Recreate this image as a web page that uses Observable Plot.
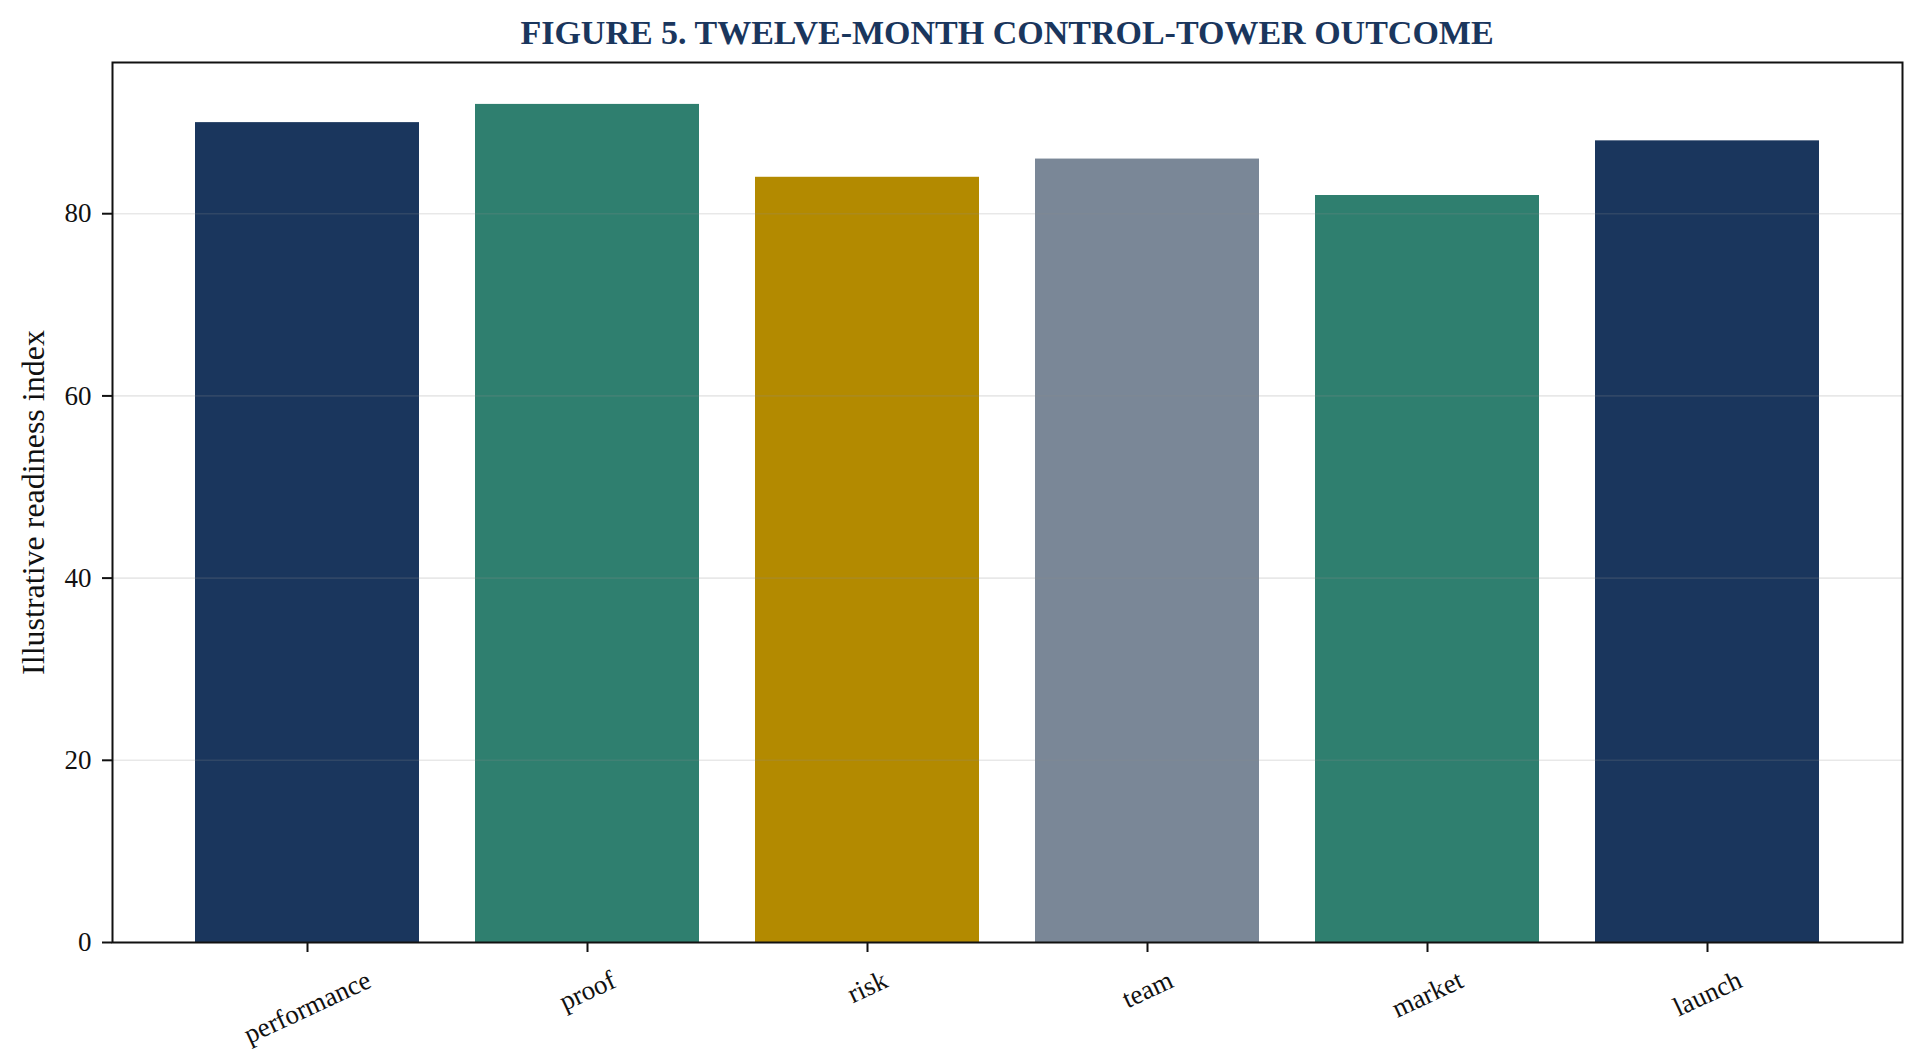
<!DOCTYPE html>
<html>
<head>
<meta charset="utf-8">
<script src="https://cdn.jsdelivr.net/npm/d3@7"></script>
<script src="https://cdn.jsdelivr.net/npm/@observablehq/plot@0.6"></script>
<style>
  html, body { margin: 0; padding: 0; background: #fff; }
  #wrap { position: relative; width: 1924px; height: 1063px; }
  #title {
    position: absolute; top: 0; left: 112px; width: 1790px; height: 66px;
    line-height: 66px; text-align: center;
    font-family: "Liberation Serif", "Times New Roman", serif;
    font-weight: bold; font-size: 34px; color: #1a365d; letter-spacing: 0;
  }
  #chart { position: absolute; top: 0; left: 0; }
</style>
</head>
<body>
<div id="wrap">
  <div id="chart"></div>
  <div id="title">FIGURE 5. TWELVE-MONTH CONTROL-TOWER OUTCOME</div>
</div>
<script>
const categories = ["performance", "proof", "risk", "team", "market", "launch"];
const values = [90, 92, 84, 86, 82, 88];
const barColors = ["#1a365d", "#2f7f6f", "#b38a00", "#7a8797", "#2f7f6f", "#1a365d"];
const yTicks = [0, 20, 40, 60, 80];
const yLabel = "Illustrative readiness index";

const data = categories.map((c, i) => ({category: c, value: values[i]}));

const FONT = '"Liberation Serif", "Times New Roman", serif';
const tickFontSize = 27;

// measure label widths to place rotated labels like matplotlib (ha=center, va=top)
const ctx = document.createElement("canvas").getContext("2d");
ctx.font = `${tickFontSize}px "Liberation Serif"`;
const ang = 25 * Math.PI / 180;
const xLabelMarks = categories.map(c => {
  const w = ctx.measureText(c).width;
  const h = tickFontSize * 1.15;
  const bboxH = w * Math.sin(ang) + h * Math.cos(ang);
  return Plot.text([c], {
    x: d => d, frameAnchor: "bottom", dy: 22 + bboxH / 2,
    rotate: -25, textAnchor: "middle", lineAnchor: "middle",
    fontSize: tickFontSize, fill: "#111"
  });
});

const chart = Plot.plot({
  width: 1924,
  height: 1063,
  marginLeft: 112,
  marginRight: 22,
  marginTop: 62,
  marginBottom: 121,
  style: {fontFamily: FONT, background: "#fff", color: "#111"},
  x: {type: "band", domain: categories, paddingInner: 0.2, paddingOuter: 0.29, label: null},
  y: {domain: [0, 96.6], label: null},
  color: {domain: categories, range: barColors},
  marks: [
    Plot.barY(data, {x: "category", y: "value", fill: "category"}),
    Plot.gridY(yTicks, {stroke: "#8a8a8a", strokeOpacity: 0.2, strokeWidth: 1.6}),
    Plot.axisY({ticks: yTicks, tickSize: 10, tickPadding: 11, fontSize: tickFontSize, label: null, strokeWidth: 2, stroke: "#111", fill: "#111"}),
    Plot.axisX({tickSize: 10, tickFormat: () => "", label: null, strokeWidth: 2, stroke: "#111"}),
    ...xLabelMarks,
    Plot.text([yLabel], {frameAnchor: "left", dx: -79, rotate: -90, textAnchor: "middle", lineAnchor: "middle", fontSize: 32, fill: "#111"}),
    Plot.frame({stroke: "#111", strokeWidth: 2})
  ]
});
document.getElementById("chart").appendChild(chart);
</script>
</body>
</html>
